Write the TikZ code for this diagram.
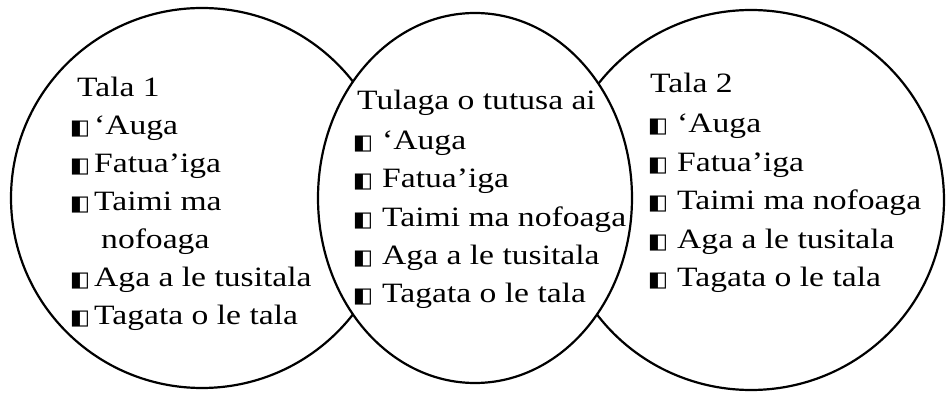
\documentclass[tikz,border=0pt]{standalone}
\usepackage{fontspec}
\setmainfont{Liberation Serif}[FakeStretch=1.2]
\newfontfamily\symfont{DejaVu Sans}
\newcommand{\sqbul}{{\symfont\fontsize{21}{21}\selectfont ◧}}
\begin{document}
\begin{tikzpicture}[x=1pt,y=-1pt,
  every node/.style={inner sep=0pt,anchor=base west,font=\fontsize{28}{34}\selectfont},
  ring/.style={line width=2.2pt}]
\useasboundingbox (0,0) rectangle (946,395);
\draw [ring] (202,198) ellipse (191 and 190);
\draw [ring] (751,200) ellipse (193 and 190);
\draw [ring,fill=white] (475,198) ellipse (157 and 185);
\node (left) at (77,97) {Tala 1};
\foreach \txt/\y [count=\i] in {‘Auga/135, Fatua’iga/173, Taimi ma/211, Aga a le tusitala/287, Tagata o le tala/325}
  \node (l\i) at (70,\y) {\makebox[24pt][l]{\sqbul}\txt};
\node (l3b) at (101,249) {nofoaga};
\node (mid) at (357,110) {Tulaga o tutusa ai};
\foreach \txt [count=\i] in {‘Auga, Fatua’iga, Taimi ma nofoaga, Aga a le tusitala, Tagata o le tala}
  \node (m\i) at (353,111+38.4*\i) {\makebox[29pt][l]{\sqbul}\txt};
\node (right) at (650,93) {Tala 2};
\foreach \txt [count=\i] in {‘Auga, Fatua’iga, Taimi ma nofoaga, Aga a le tusitala, Tagata o le tala}
  \node (r\i) at (648,94.5+38.5*\i) {\makebox[29pt][l]{\sqbul}\txt};
\end{tikzpicture}
\end{document}
